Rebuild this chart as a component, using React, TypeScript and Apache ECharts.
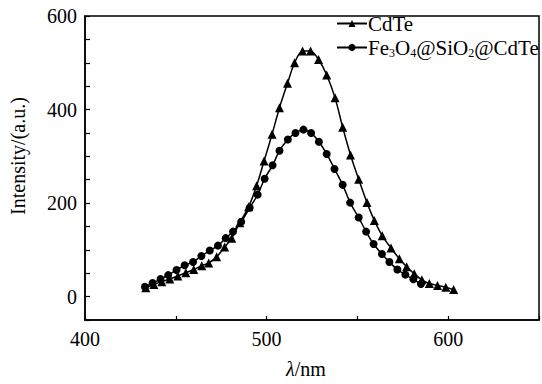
import React, { useEffect, useRef } from "react";
import * as echarts from "echarts";

// CdTe (triangles)
const cdteX = [433.5, 437.9, 442.3, 446.7, 451.1, 455.5, 459.9, 464.3, 468.1, 472.5, 476.9, 480.8, 485.2, 490.1, 494.5, 498.6, 503.0, 507.1, 511.5, 515.4, 519.8, 524.2, 528.6, 533.1, 537.7, 541.9, 546.2, 550.7, 555.3, 559.3, 563.7, 568.5, 573.1, 577.1, 581.3, 585.5, 589.6, 594.1, 598.7, 603.0];
const cdteY = [19, 26, 32, 37.5, 44, 51, 58, 66, 72, 85, 106, 125, 158, 192, 237, 290, 347, 404, 456, 500, 525, 525, 507, 474, 425, 362, 303, 251, 201, 163, 130, 104, 81, 64, 49, 36, 28, 24, 20, 15];

// Fe3O4@SiO2@CdTe (circles)
const fsX = [433.0, 437.2, 441.6, 445.8, 450.4, 454.9, 459.5, 464.1, 468.7, 473.2, 477.5, 481.5, 486.0, 490.7, 495.1, 498.9, 503.3, 507.1, 511.7, 515.9, 520.3, 524.5, 528.8, 533.1, 537.4, 541.9, 546.0, 550.7, 554.8, 558.9, 563.5, 567.6, 572.0, 576.4, 580.8, 585.0];
const fsY = [21, 29, 37.5, 46, 57, 67, 74, 87, 98.5, 109, 125, 139, 160, 190, 218, 252, 281, 312, 336, 350, 357, 350, 331, 305, 273, 239, 201, 169, 139, 112.5, 91, 74, 58, 47, 37, 27];

const xTickLabels = [400, 500, 600];
const yTickLabels = [0, 200, 400, 600];

const FONT = "Liberation Serif";

export default function App() {
  const ref = useRef<HTMLDivElement>(null);
  useEffect(() => {
    if (!ref.current) return;
    const chart = echarts.init(ref.current, undefined, { renderer: "svg" });
    const cdte = cdteX.map((x, i) => [x, cdteY[i]]);
    const fs = fsX.map((x, i) => [x, fsY[i]]);
    chart.setOption({
      animation: false,
      backgroundColor: "#fff",
      textStyle: { fontFamily: FONT, color: "#000" },
      grid: {
        left: 85,
        top: 16,
        right: 2,
        bottom: 56,
        show: true,
        borderColor: "#000",
        borderWidth: 1.5,
        backgroundColor: "transparent",
      },
      legend: {
        orient: "vertical",
        left: 331,
        top: 8,
        itemWidth: 30,
        itemHeight: 9,
        itemGap: 2,
        data: ["CdTe", "Fe3O4@SiO2@CdTe"],
        formatter: (name: string) =>
          name === "CdTe"
            ? "{t|CdTe}"
            : "{t|Fe}{s|3}{t|O}{s|4}{t|@SiO}{s|2}{t|@CdTe}",
        textStyle: {
          fontFamily: FONT,
          color: "#000",
          padding: [0, 0, 0, -4],
          rich: {
            t: { fontFamily: FONT, fontSize: 21, color: "#000", lineHeight: 22 },
            s: { fontFamily: FONT, fontSize: 12, color: "#000", lineHeight: 22, padding: [11, 0, 0, 0] },
          },
        },
      },
      xAxis: {
        type: "value",
        min: 400,
        max: 650,
        interval: 50,
        name: "{i|λ}{n|/nm}",
        nameLocation: "middle",
        nameGap: 39,
        nameTextStyle: {
          fontFamily: FONT,
          fontSize: 20,
          color: "#000",
          padding: [0, 12, 0, 0],
          rich: {
            i: { fontFamily: FONT, fontSize: 20, fontStyle: "italic", color: "#000" },
            n: { fontFamily: FONT, fontSize: 20, color: "#000" },
          },
        },
        axisLine: { show: true, onZero: false, lineStyle: { color: "#000", width: 1.5 } },
        axisTick: { show: true, inside: true, length: 4, lineStyle: { color: "#000", width: 1.2 } },
        axisLabel: {
          fontFamily: FONT,
          fontSize: 20,
          color: "#000",
          margin: 9,
          formatter: (v: number) => (xTickLabels.includes(v) ? String(v) : ""),
        },
        splitLine: { show: false },
      },
      yAxis: {
        type: "value",
        min: -50,
        max: 600,
        interval: 50,
        name: "Intensity/(a.u.)",
        nameLocation: "middle",
        nameGap: 57,
        nameTextStyle: { fontFamily: FONT, fontSize: 20, color: "#000", padding: [0, 0, 0, 24] },
        axisLine: { show: true, onZero: false, lineStyle: { color: "#000", width: 1.5 } },
        axisTick: { show: true, inside: true, length: 5, lineStyle: { color: "#000", width: 1.2 } },
        axisLabel: {
          fontFamily: FONT,
          fontSize: 20,
          color: "#000",
          margin: 8,
          formatter: (v: number) => (yTickLabels.includes(v) ? String(v) : ""),
        },
        splitLine: { show: false },
      },
      series: [
        {
          name: "CdTe",
          type: "line",
          data: cdte,
          smooth: 0.3,
          symbol: "triangle",
          symbolSize: 9,
          color: "#000",
          itemStyle: { color: "#000" },
          lineStyle: { color: "#000", width: 1.5 },
        },
        {
          name: "Fe3O4@SiO2@CdTe",
          type: "line",
          data: fs,
          smooth: 0.3,
          symbol: "circle",
          symbolSize: 8,
          color: "#000",
          itemStyle: { color: "#000" },
          lineStyle: { color: "#000", width: 1.5 },
        },
      ],
    });
    return () => chart.dispose();
  }, []);
  return <div ref={ref} style={{ width: 542, height: 384, position: "absolute", left: 0, top: 0 }} />;
}
